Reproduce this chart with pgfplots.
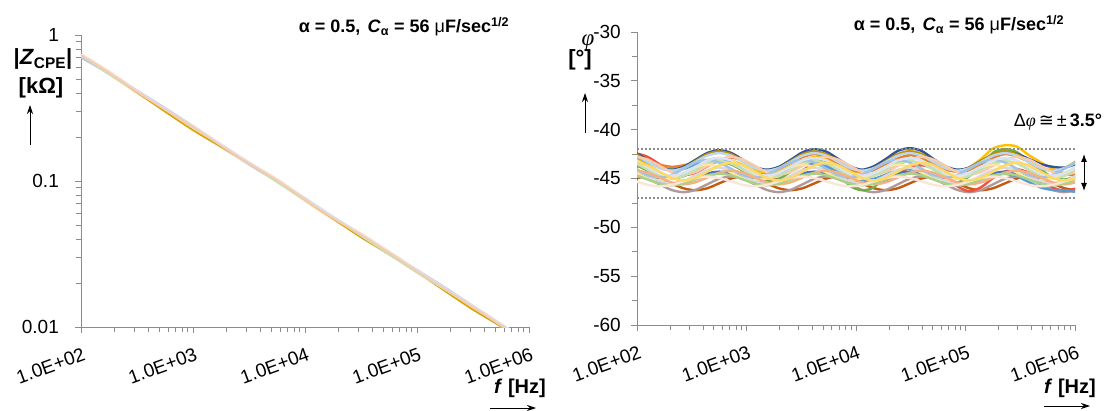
\documentclass[border=0pt]{standalone}
\usepackage{pgfplots}
\pgfplotsset{compat=1.18}
\usepackage{pgfplotstable}
\usepackage{fontspec}
\setmainfont{Liberation Sans}
\newfontfamily\serifgreek{Liberation Serif}
\newfontfamily\dejavu{DejaVu Sans}
\usetikzlibrary{arrows.meta}

\definecolor{cA}{HTML}{2E5597}
\definecolor{cB}{HTML}{ED7D31}
\definecolor{cC}{HTML}{FFC000}
\definecolor{cD}{HTML}{70AD47}
\definecolor{cE}{HTML}{F4503E}
\definecolor{cF}{HTML}{C55A11}
\definecolor{cG}{HTML}{B09A9A}
\definecolor{cH}{HTML}{5B9BD5}
\definecolor{cI}{HTML}{4472C4}
\definecolor{cJ}{HTML}{BF9000}
\definecolor{p1}{HTML}{BDD7EE}
\definecolor{p2}{HTML}{F8CBAD}
\definecolor{p3}{HTML}{C5E0B4}
\definecolor{p4}{HTML}{FFE699}
\definecolor{p5}{HTML}{D9D9D9}
\definecolor{p6}{HTML}{9DC3E6}
\definecolor{p7}{HTML}{F4B183}
\definecolor{p8}{HTML}{A9D18E}
\definecolor{p9}{HTML}{DAE3F3}
\definecolor{p10}{HTML}{FBE5D6}
\definecolor{p11}{HTML}{FFD966}
\definecolor{p12}{HTML}{B4C7E7}
\definecolor{axgray}{HTML}{8C8C8C}

\pgfplotstableread{
f blue gold peach green lav
100 0.6984 0.720 0.7272 0.720 0.7344
177.83 0.5424 0.5424 0.5532 0.5370 0.5532
316.23 0.4169 0.4046 0.4087 0.4087 0.4169
562.34 0.3171 0.2987 0.3079 0.3110 0.3141
1000 0.2366 0.2227 0.2343 0.2320 0.2366
1778.3 0.1748 0.1713 0.1748 0.1765 0.1783
3162.3 0.1304 0.1317 0.1317 0.1330 0.1343
5623.4 0.0992 0.0992 0.1012 0.0982 0.1012
10000 0.0762 0.0740 0.0747 0.0740 0.0762
17783 0.0569 0.0552 0.0557 0.0563 0.0574
31623 0.0424 0.0411 0.0428 0.0420 0.0432
56234 0.0317 0.0314 0.0323 0.0314 0.0326
100000 0.02458 0.02386 0.0241 0.02362 0.02458
177830 0.01869 0.01761 0.01815 0.01797 0.01851
316230 0.01394 0.01312 0.01367 0.01367 0.01394
562340 0.01040 0.01009 0.01030 0.01020 0.01051
1000000 0.00776 0.00776 0.00776 0.00776 0.00792
}\leftdata

\pgfplotstableread{
f A B C D E H F G I J P1 P2 P3 P4 P5 P6 P7 P8 P9 P10 P11
75.86 -42.1 -42.4 -42.8 -43.4 -42.69 -42.5 -45.5 -45.03 -44.3 -42.2 -42.4 -43.06 -43.2 -43.83 -43.9 -43.36 -44.41 -44.5 -42.9 -44.95 -43.66
97.44 -42.39 -42.59 -43.01 -43.63 -42.45 -42.76 -45.0 -44.8 -44.48 -42.49 -42.66 -42.8 -43.46 -44.4 -44.13 -44.0 -44.2 -44.68 -43.16 -45.3 -43.4
125.15 -43.1 -43.2 -43.5 -44.2 -42.79 -43.33 -44.8 -45.03 -44.9 -43.2 -43.3 -43.06 -44.1 -44.97 -44.7 -44.64 -44.41 -45.1 -43.8 -45.65 -43.66
160.78 -43.81 -43.58 -43.85 -44.77 -43.55 -43.89 -45.0 -45.6 -45.32 -43.91 -43.94 -43.7 -44.74 -45.2 -45.27 -44.9 -44.9 -45.52 -44.44 -45.8 -44.3
206.54 -44.1 -43.8 -44.0 -45.0 -44.31 -44.15 -45.5 -46.17 -45.5 -44.2 -44.2 -44.34 -45.0 -44.97 -45.5 -44.64 -45.39 -45.7 -44.7 -45.65 -44.94
265.3 -43.81 -43.65 -43.92 -44.77 -44.65 -44.02 -46.0 -46.4 -45.32 -43.91 -43.94 -44.6 -44.74 -44.4 -45.27 -44.0 -45.6 -45.52 -44.44 -45.3 -45.2
340.75 -43.1 -43.3 -43.6 -44.2 -44.41 -43.58 -46.2 -46.17 -44.9 -43.2 -43.3 -44.34 -44.1 -43.83 -44.7 -43.36 -45.39 -45.1 -43.8 -44.95 -44.94
437.8 -42.39 -42.52 -43.15 -43.56 -43.75 -43.14 -46.0 -45.6 -44.48 -42.49 -42.66 -43.7 -43.46 -43.6 -44.13 -43.1 -44.9 -44.68 -43.16 -44.8 -44.3
562.34 -42.1 -42.2 -42.9 -43.3 -43.09 -43.0 -45.5 -45.03 -44.3 -42.2 -42.4 -43.06 -43.2 -43.83 -43.9 -43.36 -44.41 -44.5 -42.9 -44.95 -43.66
722.3 -42.39 -42.38 -43.15 -43.56 -42.85 -43.27 -45.0 -44.8 -44.48 -42.49 -42.66 -42.8 -43.46 -44.4 -44.13 -44.0 -44.2 -44.68 -43.16 -45.3 -43.4
927.9 -43.1 -43.1 -43.6 -44.2 -43.19 -43.83 -44.8 -45.03 -44.9 -43.2 -43.3 -43.06 -44.1 -44.97 -44.7 -44.64 -44.41 -45.1 -43.8 -45.65 -43.66
1192 -43.81 -43.79 -44.21 -44.98 -43.95 -44.4 -45.0 -45.6 -45.32 -43.91 -43.94 -43.7 -44.74 -45.2 -45.27 -44.9 -44.9 -45.52 -44.44 -45.8 -44.3
1531.1 -44.1 -44.2 -44.4 -45.3 -44.71 -44.66 -45.5 -46.17 -45.5 -44.2 -44.2 -44.34 -45.0 -44.97 -45.5 -44.64 -45.39 -45.7 -44.7 -45.65 -44.94
1966.8 -43.81 -44.01 -44.28 -45.05 -45.05 -44.52 -46.0 -46.4 -45.32 -43.91 -43.94 -44.6 -44.74 -44.4 -45.27 -44.0 -45.6 -45.52 -44.44 -45.3 -45.2
2526.4 -43.1 -43.4 -43.7 -44.3 -44.81 -44.09 -46.2 -46.17 -44.9 -43.2 -43.3 -44.34 -44.1 -43.83 -44.7 -43.36 -45.39 -45.1 -43.8 -44.95 -44.94
3245.3 -42.32 -42.81 -43.15 -43.42 -44.15 -43.65 -46.0 -45.6 -44.48 -42.49 -42.66 -43.7 -43.46 -43.6 -44.13 -43.1 -44.9 -44.68 -43.16 -44.8 -44.3
4168.7 -42.0 -42.5 -42.8 -43.0 -43.49 -43.51 -45.5 -45.03 -44.3 -42.2 -42.4 -43.06 -43.2 -43.83 -43.9 -43.36 -44.41 -44.5 -42.9 -44.95 -43.66
5355 -42.25 -42.81 -43.01 -43.49 -43.25 -43.78 -45.0 -44.8 -44.48 -42.49 -42.66 -42.8 -43.46 -44.4 -44.13 -44.0 -44.2 -44.68 -43.16 -45.3 -43.4
6879 -43.0 -43.4 -43.5 -44.4 -43.59 -44.34 -44.8 -45.03 -44.9 -43.2 -43.3 -43.06 -44.1 -44.97 -44.7 -44.64 -44.41 -45.1 -43.8 -45.65 -43.66
8836 -43.74 -44.08 -44.14 -45.76 -44.35 -44.9 -45.0 -45.6 -45.32 -43.91 -43.94 -43.7 -44.74 -45.2 -45.27 -44.9 -44.9 -45.52 -44.44 -45.8 -44.3
11350 -44.1 -44.3 -44.4 -46.2 -45.11 -45.17 -45.5 -46.17 -45.5 -44.2 -44.2 -44.34 -45.0 -44.97 -45.5 -44.64 -45.39 -45.7 -44.7 -45.65 -44.94
14580 -43.74 -44.15 -43.99 -45.9 -45.45 -45.03 -46.0 -46.4 -45.32 -43.91 -43.94 -44.6 -44.74 -44.4 -45.27 -44.0 -45.6 -45.52 -44.44 -45.3 -45.2
18728 -43.0 -43.5 -43.3 -44.6 -45.21 -44.6 -46.2 -46.17 -44.9 -43.2 -43.3 -44.34 -44.1 -43.83 -44.7 -43.36 -45.39 -45.1 -43.8 -44.95 -44.94
24057 -42.18 -42.95 -42.56 -43.35 -44.55 -44.16 -46.0 -45.6 -44.48 -42.49 -42.66 -43.7 -43.46 -43.6 -44.13 -43.1 -44.9 -44.68 -43.16 -44.8 -44.3
30903 -41.9 -42.6 -42.2 -42.6 -43.89 -44.02 -45.5 -45.03 -44.3 -42.2 -42.4 -43.06 -43.2 -43.83 -43.9 -43.36 -44.41 -44.5 -42.9 -44.95 -43.66
39696 -42.18 -42.88 -42.49 -42.86 -43.65 -44.29 -45.0 -44.8 -44.48 -42.49 -42.66 -42.8 -43.46 -44.4 -44.13 -44.0 -44.2 -44.68 -43.16 -45.3 -43.4
50992 -43.0 -43.4 -43.2 -43.9 -43.99 -44.85 -44.8 -45.03 -44.9 -43.2 -43.3 -43.06 -44.1 -44.97 -44.7 -44.64 -44.41 -45.1 -43.8 -45.65 -43.66
65501 -43.74 -44.08 -43.98 -44.84 -45.0 -45.41 -45.0 -45.6 -45.32 -43.91 -43.94 -43.7 -44.74 -45.2 -45.27 -44.9 -44.9 -45.52 -44.44 -45.8 -44.3
84140 -44.1 -44.3 -44.3 -45.4 -45.8 -45.68 -45.5 -46.17 -45.5 -44.2 -44.2 -44.34 -45.0 -44.97 -45.5 -44.64 -45.39 -45.7 -44.7 -45.65 -44.94
108080 -43.88 -44.15 -43.84 -44.77 -46.3 -45.54 -46.0 -46.4 -45.32 -43.91 -43.94 -44.6 -44.74 -44.4 -45.27 -44.0 -45.6 -45.52 -44.44 -45.3 -45.2
138840 -43.2 -43.5 -43.0 -43.8 -45.89 -45.1 -46.2 -46.17 -44.9 -43.2 -43.3 -44.34 -44.1 -43.83 -44.7 -43.36 -45.39 -45.1 -43.8 -44.95 -44.94
178350 -42.61 -42.88 -41.93 -42.36 -44.95 -44.67 -46.0 -45.6 -44.48 -42.49 -42.66 -43.7 -43.46 -43.6 -44.13 -43.1 -44.9 -44.68 -43.16 -44.8 -44.3
229090 -42.3 -42.5 -41.6 -42.0 -44.29 -44.53 -45.5 -45.03 -44.3 -42.2 -42.4 -43.06 -43.2 -43.83 -43.9 -43.36 -44.41 -44.5 -42.9 -44.95 -43.66
294280 -42.46 -42.73 -41.73 -42.3 -44.05 -44.79 -45.0 -44.8 -44.48 -42.49 -42.66 -42.8 -43.46 -44.4 -44.13 -44.0 -44.2 -44.68 -43.16 -45.3 -43.4
378000 -43.0 -43.3 -42.6 -43.3 -44.39 -45.36 -44.8 -45.03 -44.9 -43.2 -43.3 -43.06 -44.1 -44.97 -44.7 -44.64 -44.41 -45.1 -43.8 -45.65 -43.66
485580 -43.52 -43.94 -43.34 -44.06 -45.15 -45.92 -45.0 -45.6 -45.32 -43.91 -43.94 -43.7 -44.74 -45.2 -45.27 -44.9 -44.9 -45.52 -44.44 -45.8 -44.3
623730 -43.8 -44.2 -44.0 -44.9 -45.91 -46.18 -45.5 -46.17 -45.5 -44.2 -44.2 -44.34 -45.0 -44.97 -45.5 -44.64 -45.39 -45.7 -44.7 -45.65 -44.94
801200 -43.88 -44.6 -44.45 -45.1 -46.25 -46.2 -46.0 -46.4 -45.32 -43.91 -43.94 -44.6 -44.74 -44.4 -45.27 -44.0 -45.6 -45.52 -44.44 -45.3 -45.2
1029200 -43.5 -44.6 -44.5 -44.8 -46.01 -46.4 -46.2 -46.17 -44.9 -43.2 -43.3 -44.34 -44.1 -43.83 -44.7 -43.36 -45.39 -45.1 -43.8 -44.95 -44.94
}\rightdata

\begin{document}
\begin{tikzpicture}[x=1pt,y=1pt]
\useasboundingbox (0,0) rectangle (1116,410);

% ---------- left panel ----------
\begin{axis}[
  at={(81pt,83pt)}, anchor=south west,
  scale only axis, width=448pt, height=292pt,
  axis x line*=bottom, axis y line*=left,
  axis line style={draw=axgray, line width=0.8pt},
  tick style={draw=axgray, line width=0.8pt},
  major tick length=6pt, minor tick length=5pt,
  tick align=outside,
  xmode=log, xmin=100, xmax=1e6,
  xtick={100,1000,10000,100000,1000000},
  xticklabels={1.0E+02,1.0E+03,1.0E+04,1.0E+05,1.0E+06},
  xticklabel style={font=\fontsize{19}{20}\selectfont, inner sep=0pt,
      yshift=-14pt, xshift=1pt, rotate=20, anchor=north east},
  ymode=log, ymin=0.01, ymax=1,
  ytick={0.01,0.1,1}, yticklabels={0.01,0.1,1},
  yticklabel style={font=\fontsize{19}{20}\selectfont, inner sep=0pt, anchor=east, xshift=-16pt},
]
\addplot[line width=4.5pt, color=p10, smooth] table[x=f,y=peach]{\leftdata};
\addplot[line width=1.6pt, smooth, color=cC!85!black] table[x=f,y=gold]{\leftdata};
\addplot[line width=1.8pt, smooth, color=p12] table[x=f,y=blue]{\leftdata};
\addplot[line width=1.6pt, smooth, color=p3] table[x=f,y=green]{\leftdata};
\addplot[line width=1.6pt, smooth, color=p9] table[x=f,y=lav]{\leftdata};
\addplot[line width=1.8pt, smooth, color=p2] table[x=f,y=peach]{\leftdata};
\end{axis}

% ---------- right panel ----------
\begin{axis}[
  at={(637pt,85pt)}, anchor=south west,
  scale only axis, width=438pt, height=293pt,
  axis x line*=bottom, axis y line*=left,
  axis line style={draw=axgray, line width=0.8pt},
  tick style={draw=axgray, line width=0.8pt},
  major tick length=6pt, minor tick length=5pt,
  tick align=outside,
  xmode=log, xmin=100, xmax=1e6,
  xtick={100,1000,10000,100000,1000000},
  xticklabels={1.0E+02,1.0E+03,1.0E+04,1.0E+05,1.0E+06},
  xticklabel style={font=\fontsize{19}{20}\selectfont, inner sep=0pt,
      yshift=-14pt, xshift=1pt, rotate=20, anchor=north east},
  ymin=-60, ymax=-30,
  ytick={-60,-55,-50,-45,-40,-35,-30},
  minor y tick num=1,
  yticklabel style={font=\fontsize{19}{20}\selectfont, inner sep=0pt, anchor=east, xshift=-10pt},
  /pgf/number format/assume math mode=true,
]
\addplot[line width=2.4pt, smooth, color=cF] table[x=f,y=F]{\rightdata};
\addplot[line width=2.4pt, smooth, color=cG] table[x=f,y=G]{\rightdata};
\addplot[line width=2.4pt, smooth, color=cE] table[x=f,y=E]{\rightdata};
\addplot[line width=2.4pt, smooth, color=cD] table[x=f,y=D]{\rightdata};
\addplot[line width=2.4pt, smooth, color=cC] table[x=f,y=C]{\rightdata};
\addplot[line width=2.4pt, smooth, color=cB] table[x=f,y=B]{\rightdata};
\addplot[line width=2.4pt, smooth, color=cA] table[x=f,y=A]{\rightdata};
\addplot[line width=2.4pt, smooth, color=cH] table[x=f,y=H]{\rightdata};
\addplot[line width=2.4pt, smooth, color=cI] table[x=f,y=I]{\rightdata};
\addplot[line width=2.0pt, smooth, color=cJ] table[x=f,y=J]{\rightdata};
\addplot[line width=2.4pt, smooth, color=p1] table[x=f,y=P1]{\rightdata};
\addplot[line width=2.4pt, smooth, color=p2] table[x=f,y=P2]{\rightdata};
\addplot[line width=2.4pt, smooth, color=p3] table[x=f,y=P3]{\rightdata};
\addplot[line width=2.4pt, smooth, color=p4] table[x=f,y=P4]{\rightdata};
\addplot[line width=2.4pt, smooth, color=p5] table[x=f,y=P5]{\rightdata};
\addplot[line width=2.4pt, smooth, color=p6] table[x=f,y=P6]{\rightdata};
\addplot[line width=2.4pt, smooth, color=p7] table[x=f,y=P7]{\rightdata};
\addplot[line width=2.4pt, smooth, color=p8] table[x=f,y=P8]{\rightdata};
\addplot[line width=2.4pt, smooth, color=p9] table[x=f,y=P9]{\rightdata};
\addplot[line width=2.4pt, smooth, color=p10] table[x=f,y=P10]{\rightdata};
\addplot[line width=2.4pt, smooth, color=p11] table[x=f,y=P11]{\rightdata};
\end{axis}

% dotted band limits
\draw[axgray, line width=1.2pt, dash pattern=on 1.5pt off 2.5pt] (637,261) -- (1077,261);
\draw[axgray, line width=1.2pt, dash pattern=on 1.5pt off 2.5pt] (637,212) -- (1077,212);
\draw[{Latex[length=8pt,width=6pt]}-{Latex[length=8pt,width=6pt]}, line width=1pt] (1084,256) -- (1084,219);

% titles
\node[font=\bfseries\fontsize{18}{20}\selectfont] at (404,383)
  {α = 0.5,\hspace{0.4em}\textit{C}\textsubscript{α} = 56 {\mdseries μ}F/sec\textsuperscript{1/2}};
\node[font=\bfseries\fontsize{18}{20}\selectfont] at (959,385)
  {α = 0.5,\hspace{0.4em}\textit{C}\textsubscript{α} = 56 {\mdseries μ}F/sec\textsuperscript{1/2}};

% left y label
\node[font=\bfseries\fontsize{22}{22}\selectfont] at (43,351) {|\textit{Z}\textsubscript{CPE}|};
\node[font=\bfseries\fontsize{22}{22}\selectfont] at (41,322) {[kΩ]};
\draw[-{Stealth[length=9pt,width=6pt]}, line width=1pt] (30,265) -- (30,305);

% right y label
\node[font=\fontsize{23}{23}\selectfont] at (588,367) {\serifgreek\itshape φ};
\node[font=\bfseries\fontsize{22}{22}\selectfont] at (580,350) {[°]};
\draw[-{Stealth[length=9pt,width=6pt]}, line width=1pt] (585,277) -- (585,317);

% x labels
\node[font=\bfseries\fontsize{20}{22}\selectfont] at (520,22) {\textit{f} [Hz]};
\draw[-{Stealth[length=9pt,width=6pt]}, line width=1pt] (490,2) -- (536,2);
\node[font=\bfseries\fontsize{20}{22}\selectfont] at (1070,22) {\textit{f} [Hz]};
\draw[-{Stealth[length=9pt,width=6pt]}, line width=1pt] (1044,4) -- (1090,4);

% delta phi annotation
\node[font=\fontsize{18}{20}\selectfont] at (1058,288)
  {Δ{\serifgreek\itshape φ}\,{\dejavu ≅}\,±\,\textbf{3.5°}};
\end{tikzpicture}
\end{document}
